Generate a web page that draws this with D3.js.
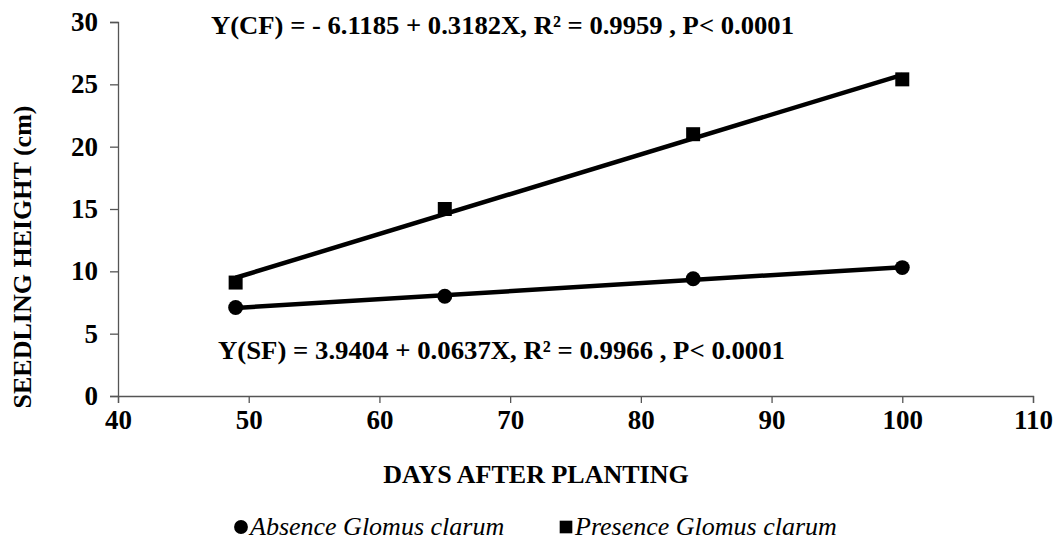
<!DOCTYPE html>
<meta charset="utf-8" />
<script src="https://d3js.org/d3.v7.min.js"></script>
<body style="margin:0;background:#fff">
  <div id="chart"></div>
  <script>
    // data
    const days = [49, 65, 84, 100];
    const absence = [7.1, 8.0, 9.4, 10.3];
    const presence = [9.1, 15.0, 21.0, 25.4];
    const xTicks = [40, 50, 60, 70, 80, 90, 100, 110];
    const yTicks = [0, 5, 10, 15, 20, 25, 30];
    const eqCF = "Y(CF) = - 6.1185 + 0.3182X, R\u00B2 = 0.9959 , P< 0.0001";
    const eqSF = "Y(SF) = 3.9404 + 0.0637X, R\u00B2 = 0.9966 , P< 0.0001";

    const FONT = "'Liberation Serif', 'Times New Roman', Times, 'DejaVu Serif', serif";
    const W = 1064, H = 548;
    const margin = { top: 22, right: 31, bottom: 152, left: 118 };
    const width = W - margin.left - margin.right,
      height = H - margin.top - margin.bottom;

    const svg = d3.select("#chart").append("svg")
      .attr("width", W).attr("height", H)
      .attr("font-family", FONT)
      .style("font-family", FONT);
    const g = svg.append("g")
      .attr("transform", "translate(" + margin.left + "," + margin.top + ")");

    const x = d3.scaleLinear().domain([40, 110]).range([0, width]);
    const y = d3.scaleLinear().domain([0, 30]).range([height, 0]);

    // axes
    const xAxis = g.append("g")
      .attr("transform", "translate(0," + height + ")")
      .call(d3.axisBottom(x).tickValues(xTicks).tickSize(7).tickPadding(7));
    const yAxis = g.append("g")
      .call(d3.axisLeft(y).tickValues(yTicks).tickSize(8).tickPadding(12));
    [xAxis, yAxis].forEach(a => {
      a.attr("font-family", FONT);
      a.selectAll("path, line").attr("stroke", "#555").attr("stroke-width", 1.3);
      a.selectAll("text").attr("fill", "#000")
        .style("font-size", "27px").style("font-weight", "bold")
        .style("font-family", FONT);
    });

    // least squares trend line through each series
    function fit(xs, ys) {
      const mx = d3.mean(xs), my = d3.mean(ys);
      const b = d3.sum(xs, (v, i) => (v - mx) * (ys[i] - my)) /
        d3.sum(xs, v => (v - mx) * (v - mx));
      return [my - b * mx, b];
    }
    const series = [
      { vals: absence, shape: d3.symbolCircle },
      { vals: presence, shape: d3.symbolSquare }
    ];
    series.forEach(s => {
      const [a, b] = fit(days, s.vals);
      const ends = d3.extent(days);
      g.append("line")
        .attr("x1", x(ends[0])).attr("y1", y(a + b * ends[0]))
        .attr("x2", x(ends[1])).attr("y2", y(a + b * ends[1]))
        .attr("stroke", "#000").attr("stroke-width", 4.5);
      g.selectAll(null).data(days).enter().append("path")
        .attr("d", d3.symbol().type(s.shape).size(s.shape === d3.symbolSquare ? 196 : 175))
        .attr("transform", (d, i) => "translate(" + x(d) + "," + y(s.vals[i]) + ")")
        .attr("fill", "#000");
    });

    // equations
    g.append("text").attr("x", 211 - margin.left).attr("y", 34 - margin.top)
      .attr("textLength", 583).attr("lengthAdjust", "spacingAndGlyphs")
      .style("font-size", "26px").style("font-weight", "bold").text(eqCF);
    g.append("text").attr("x", 218 - margin.left).attr("y", 359 - margin.top)
      .attr("textLength", 567).attr("lengthAdjust", "spacingAndGlyphs")
      .style("font-size", "26px").style("font-weight", "bold").text(eqSF);

    // axis titles
    svg.append("text")
      .attr("transform", "translate(31,257) rotate(-90)")
      .attr("text-anchor", "middle")
      .style("font-size", "26px").style("font-weight", "bold")
      .text("SEEDLING HEIGHT (cm)");
    svg.append("text")
      .attr("x", 536).attr("y", 483)
      .attr("text-anchor", "middle")
      .style("font-size", "26px").style("font-weight", "bold")
      .text("DAYS AFTER PLANTING");

    // legend
    const legend = [
      { label: "Absence Glomus clarum", shape: d3.symbolCircle, x: 241 },
      { label: "Presence Glomus clarum", shape: d3.symbolSquare, x: 566 }
    ];
    legend.forEach(l => {
      svg.append("path")
        .attr("d", d3.symbol().type(l.shape).size(l.shape === d3.symbolSquare ? 160 : 150))
        .attr("transform", "translate(" + l.x + ",527)")
        .attr("fill", "#000");
      svg.append("text")
        .attr("x", l.x + 9).attr("y", 535)
        .style("font-size", "26px").style("font-style", "italic")
        .text(l.label);
    });
  </script>
</body>
